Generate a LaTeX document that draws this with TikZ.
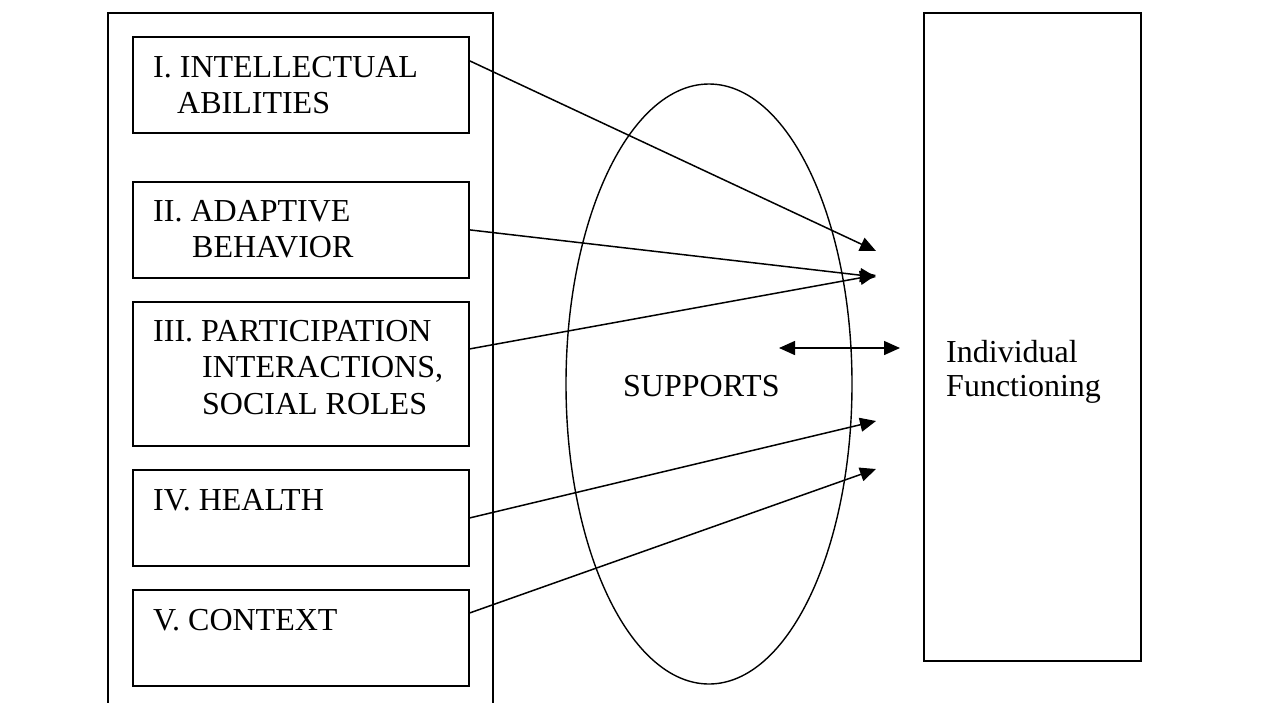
\documentclass[tikz,border=0pt]{standalone}
\usepackage{fontspec}
\setmainfont{Liberation Serif}
\usetikzlibrary{arrows.meta,shapes.geometric}
\tikzset{
  dimbox/.style={draw,line width=1.8pt,rectangle,inner sep=0pt,anchor=north west},
  lbl/.style={inner sep=0pt,anchor=base west,align=left,font=\fontsize{32}{36.5}\selectfont},
  conn/.style={line width=1.5pt,-{Triangle[length=16pt,width=14pt]}},
}
\begin{document}
\begin{tikzpicture}[x=1pt,y=-1pt]
    \useasboundingbox (0,0) rectangle (1269,702);
    \clip (0,0) rectangle (1269,702);
    % dimensions, left column (runs off the page at the bottom)
    \node[dimbox,minimum width=385pt,minimum height=720pt] (dims) at (107,12) {};
    \node[dimbox,minimum width=336pt,minimum height=96pt] (intel) at (132,36) {};
    \node[dimbox,minimum width=336pt,minimum height=96pt] (adapt) at (132,181) {};
    \node[dimbox,minimum width=336pt,minimum height=144pt] (partic) at (132,301) {};
    \node[dimbox,minimum width=336pt,minimum height=96pt] (health) at (132,469) {};
    \node[dimbox,minimum width=336pt,minimum height=96pt] (context) at (132,589) {};
    % base of a two-line label = baseline of its last line
    \node[lbl] (intellbl) at (153,113.5) {I. INTELLECTUAL\\\hspace*{24pt}ABILITIES};
    \node[lbl] (adaptlbl) at (153,257.5) {II. ADAPTIVE\\\hspace*{39pt}BEHAVIOR};
    \node[lbl] (particlbl) at (153,414)
        {III. PARTICIPATION\\\hspace*{49pt}INTERACTIONS,\\\hspace*{49pt}SOCIAL ROLES};
    \node[lbl] (healthlbl) at (153,510) {IV. HEALTH};
    \node[lbl] (contextlbl) at (153,630) {V. CONTEXT};
    % supports
    \node[draw,ellipse,line width=1.4pt,inner sep=0pt,
          minimum width=286pt,minimum height=600pt] (supp) at (709,384) {};
    \node[lbl] (supplbl) at (623,396) {SUPPORTS};
    % individual functioning
    \node[dimbox,minimum width=217pt,minimum height=648pt] (func) at (923,12) {};
    \node[lbl,font=\fontsize{32}{34}\selectfont] (funclbl) at (946,396) {Individual\\Functioning};
    % arrow ends
    \coordinate (tip1) at (876,251);
    \coordinate (tip2) at (876,277);
    \coordinate (tip3) at (876,275);
    \coordinate (tip4) at (876,421);
    \coordinate (tip5) at (876,469);
    \coordinate (dblL) at (779,348);
    \coordinate (dblR) at (900,348);
    \draw[conn] ([yshift=24pt]intel.east) -- (tip1);
    \draw[conn] (adapt.east) -- (tip2);
    \draw[conn] ([yshift=25pt]partic.east) -- (tip3);
    \draw[conn] (health.east) -- (tip4);
    \draw[conn] ([yshift=25pt]context.east) -- (tip5);
    \draw[conn,{Triangle[length=16pt,width=14pt]}-{Triangle[length=16pt,width=14pt]}]
        (dblL) -- (dblR);
\end{tikzpicture}
\end{document}
